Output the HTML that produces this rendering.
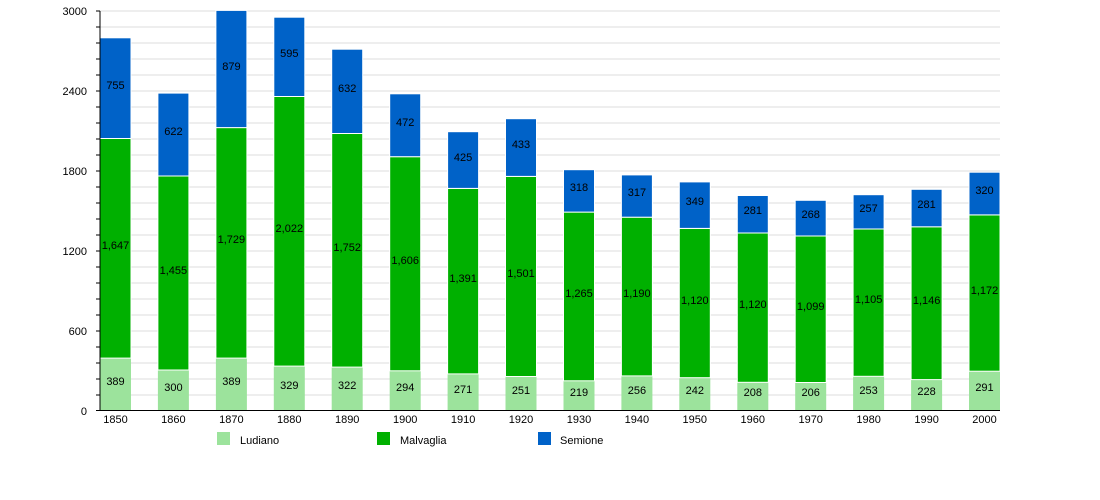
<!DOCTYPE html>
<html><head><meta charset="utf-8"><style>body{margin:0;background:#fff}svg{display:block}text{font-family:"Liberation Sans",sans-serif;font-size:11px;fill:#000}</style></head><body>
<svg width="1100" height="500" viewBox="0 0 1100 500">
<g stroke="#dcdcdc" stroke-width="1">
<line x1="100" x2="1000" y1="11" y2="11"/><line x1="100" x2="1000" y1="27" y2="27"/><line x1="100" x2="1000" y1="43" y2="43"/><line x1="100" x2="1000" y1="59" y2="59"/><line x1="100" x2="1000" y1="75" y2="75"/><line x1="100" x2="1000" y1="91" y2="91"/><line x1="100" x2="1000" y1="107" y2="107"/><line x1="100" x2="1000" y1="123" y2="123"/><line x1="100" x2="1000" y1="139" y2="139"/><line x1="100" x2="1000" y1="155" y2="155"/><line x1="100" x2="1000" y1="171" y2="171"/><line x1="100" x2="1000" y1="187" y2="187"/><line x1="100" x2="1000" y1="203" y2="203"/><line x1="100" x2="1000" y1="219" y2="219"/><line x1="100" x2="1000" y1="235" y2="235"/><line x1="100" x2="1000" y1="251" y2="251"/><line x1="100" x2="1000" y1="267" y2="267"/><line x1="100" x2="1000" y1="283" y2="283"/><line x1="100" x2="1000" y1="299" y2="299"/><line x1="100" x2="1000" y1="315" y2="315"/><line x1="100" x2="1000" y1="331" y2="331"/><line x1="100" x2="1000" y1="347" y2="347"/><line x1="100" x2="1000" y1="363" y2="363"/><line x1="100" x2="1000" y1="379" y2="379"/><line x1="100" x2="1000" y1="395" y2="395"/>
</g>
<g stroke="#000" stroke-width="1">
<line x1="96" x2="100" y1="11" y2="11"/><line x1="96" x2="100" y1="27" y2="27"/><line x1="96" x2="100" y1="43" y2="43"/><line x1="96" x2="100" y1="59" y2="59"/><line x1="96" x2="100" y1="75" y2="75"/><line x1="96" x2="100" y1="91" y2="91"/><line x1="96" x2="100" y1="107" y2="107"/><line x1="96" x2="100" y1="123" y2="123"/><line x1="96" x2="100" y1="139" y2="139"/><line x1="96" x2="100" y1="155" y2="155"/><line x1="96" x2="100" y1="171" y2="171"/><line x1="96" x2="100" y1="187" y2="187"/><line x1="96" x2="100" y1="203" y2="203"/><line x1="96" x2="100" y1="219" y2="219"/><line x1="96" x2="100" y1="235" y2="235"/><line x1="96" x2="100" y1="251" y2="251"/><line x1="96" x2="100" y1="267" y2="267"/><line x1="96" x2="100" y1="283" y2="283"/><line x1="96" x2="100" y1="299" y2="299"/><line x1="96" x2="100" y1="315" y2="315"/><line x1="96" x2="100" y1="331" y2="331"/><line x1="96" x2="100" y1="347" y2="347"/><line x1="96" x2="100" y1="363" y2="363"/><line x1="96" x2="100" y1="379" y2="379"/><line x1="96" x2="100" y1="395" y2="395"/>
</g>
<g text-anchor="end">
<text x="87" y="15">3000</text><text x="87" y="95">2400</text><text x="87" y="175">1800</text><text x="87" y="255">1200</text><text x="87" y="335">600</text><text x="87" y="415">0</text>
</g>
<g stroke="#fff" stroke-width="1">
<!-- bars: L, M, S -->
<rect x="100" y="358.1" width="31" height="51.9" fill="#9ce39c" stroke="none"/><rect x="100" y="138.5" width="31" height="219.6" fill="#00b000"/><rect x="100" y="37.8" width="31" height="100.7" fill="#0062c8"/>
<rect x="157.9" y="370" width="31" height="40" fill="#9ce39c" stroke="none"/><rect x="157.9" y="176" width="31" height="194" fill="#00b000"/><rect x="157.9" y="93.1" width="31" height="82.9" fill="#0062c8"/>
<rect x="215.9" y="358.1" width="31" height="51.9" fill="#9ce39c" stroke="none"/><rect x="215.9" y="127.6" width="31" height="230.5" fill="#00b000"/><rect x="215.9" y="10.4" width="31" height="117.2" fill="#0062c8"/>
<rect x="273.8" y="366.1" width="31" height="43.9" fill="#9ce39c" stroke="none"/><rect x="273.8" y="96.5" width="31" height="269.6" fill="#00b000"/><rect x="273.8" y="17.2" width="31" height="79.3" fill="#0062c8"/>
<rect x="331.7" y="367.1" width="31" height="42.9" fill="#9ce39c" stroke="none"/><rect x="331.7" y="133.5" width="31" height="233.6" fill="#00b000"/><rect x="331.7" y="49.2" width="31" height="84.3" fill="#0062c8"/>
<rect x="389.7" y="370.8" width="31" height="39.2" fill="#9ce39c" stroke="none"/><rect x="389.7" y="156.7" width="31" height="214.1" fill="#00b000"/><rect x="389.7" y="93.8" width="31" height="62.9" fill="#0062c8"/>
<rect x="447.6" y="373.9" width="31" height="36.1" fill="#9ce39c" stroke="none"/><rect x="447.6" y="188.4" width="31" height="185.5" fill="#00b000"/><rect x="447.6" y="131.7" width="31" height="56.7" fill="#0062c8"/>
<rect x="505.5" y="376.5" width="31" height="33.5" fill="#9ce39c" stroke="none"/><rect x="505.5" y="176.4" width="31" height="200.1" fill="#00b000"/><rect x="505.5" y="118.7" width="31" height="57.7" fill="#0062c8"/>
<rect x="563.5" y="380.8" width="31" height="29.2" fill="#9ce39c" stroke="none"/><rect x="563.5" y="212.1" width="31" height="168.7" fill="#00b000"/><rect x="563.5" y="169.7" width="31" height="42.4" fill="#0062c8"/>
<rect x="621.4" y="375.9" width="31" height="34.1" fill="#9ce39c" stroke="none"/><rect x="621.4" y="217.2" width="31" height="158.7" fill="#00b000"/><rect x="621.4" y="174.9" width="31" height="42.3" fill="#0062c8"/>
<rect x="679.3" y="377.7" width="31" height="32.3" fill="#9ce39c" stroke="none"/><rect x="679.3" y="228.4" width="31" height="149.3" fill="#00b000"/><rect x="679.3" y="181.9" width="31" height="46.5" fill="#0062c8"/>
<rect x="737.3" y="382.3" width="31" height="27.7" fill="#9ce39c" stroke="none"/><rect x="737.3" y="233" width="31" height="149.3" fill="#00b000"/><rect x="737.3" y="195.5" width="31" height="37.5" fill="#0062c8"/>
<rect x="795.2" y="382.5" width="31" height="27.5" fill="#9ce39c" stroke="none"/><rect x="795.2" y="236" width="31" height="146.5" fill="#00b000"/><rect x="795.2" y="200.3" width="31" height="35.7" fill="#0062c8"/>
<rect x="853.1" y="376.3" width="31" height="33.7" fill="#9ce39c" stroke="none"/><rect x="853.1" y="229" width="31" height="147.3" fill="#00b000"/><rect x="853.1" y="194.7" width="31" height="34.3" fill="#0062c8"/>
<rect x="911.1" y="379.6" width="31" height="30.4" fill="#9ce39c" stroke="none"/><rect x="911.1" y="226.8" width="31" height="152.8" fill="#00b000"/><rect x="911.1" y="189.3" width="31" height="37.5" fill="#0062c8"/>
<rect x="969" y="371.2" width="31" height="38.8" fill="#9ce39c" stroke="none"/><rect x="969" y="214.9" width="31" height="156.3" fill="#00b000"/><rect x="969" y="172.2" width="31" height="42.7" fill="#0062c8"/>
</g>
<line x1="100" x2="100" y1="11" y2="410" stroke="#000"/>
<line x1="96" x2="1000" y1="410.5" y2="410.5" stroke="#000"/>
<g text-anchor="middle">
<text x="115.5" y="385">389</text><text x="115.5" y="249">1,647</text><text x="115.5" y="89">755</text>
<text x="173.4" y="391">300</text><text x="173.4" y="274">1,455</text><text x="173.4" y="135">622</text>
<text x="231.4" y="385">389</text><text x="231.4" y="243">1,729</text><text x="231.4" y="70">879</text>
<text x="289.3" y="389">329</text><text x="289.3" y="232">2,022</text><text x="289.3" y="57">595</text>
<text x="347.2" y="389">322</text><text x="347.2" y="251">1,752</text><text x="347.2" y="92">632</text>
<text x="405.2" y="391">294</text><text x="405.2" y="264">1,606</text><text x="405.2" y="126">472</text>
<text x="463.1" y="393">271</text><text x="463.1" y="282">1,391</text><text x="463.1" y="161">425</text>
<text x="521" y="394">251</text><text x="521" y="277">1,501</text><text x="521" y="148">433</text>
<text x="579" y="396">219</text><text x="579" y="297">1,265</text><text x="579" y="191">318</text>
<text x="636.9" y="394">256</text><text x="636.9" y="297">1,190</text><text x="636.9" y="196">317</text>
<text x="694.8" y="394">242</text><text x="694.8" y="304">1,120</text><text x="694.8" y="205">349</text>
<text x="752.8" y="396">208</text><text x="752.8" y="308">1,120</text><text x="752.8" y="214">281</text>
<text x="810.7" y="396">206</text><text x="810.7" y="310">1,099</text><text x="810.7" y="218">268</text>
<text x="868.6" y="394">253</text><text x="868.6" y="303">1,105</text><text x="868.6" y="212">257</text>
<text x="926.6" y="395">228</text><text x="926.6" y="304">1,146</text><text x="926.6" y="208">281</text>
<text x="984.5" y="391">291</text><text x="984.5" y="294">1,172</text><text x="984.5" y="194">320</text>
</g>
<g text-anchor="middle">
<text x="115.5" y="423">1850</text><text x="173.4" y="423">1860</text><text x="231.4" y="423">1870</text><text x="289.3" y="423">1880</text><text x="347.2" y="423">1890</text><text x="405.2" y="423">1900</text><text x="463.1" y="423">1910</text><text x="521" y="423">1920</text><text x="579" y="423">1930</text><text x="636.9" y="423">1940</text><text x="694.8" y="423">1950</text><text x="752.8" y="423">1960</text><text x="810.7" y="423">1970</text><text x="868.6" y="423">1980</text><text x="926.6" y="423">1990</text><text x="984.5" y="423">2000</text>
</g>
<rect x="217" y="432" width="13" height="13" fill="#9ce39c"/><text x="240" y="444">Ludiano</text>
<rect x="377" y="432" width="13" height="13" fill="#00b000"/><text x="400" y="444">Malvaglia</text>
<rect x="538" y="432" width="13" height="13" fill="#0062c8"/><text x="560" y="444">Semione</text>
</svg>
</body></html>
